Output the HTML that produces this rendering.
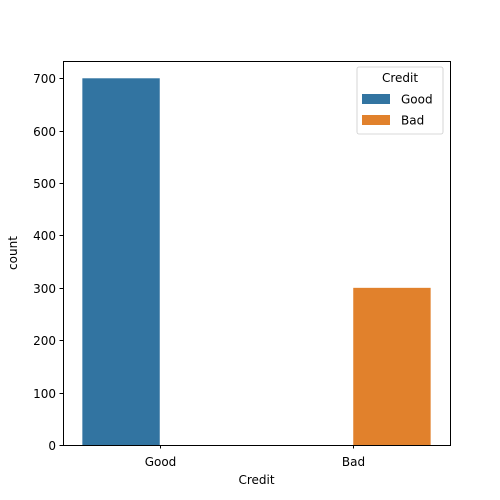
<!DOCTYPE html>
<html><head><meta charset="utf-8"><style>
html,body{margin:0;padding:0;background:#fff;width:500px;height:500px;overflow:hidden;}
svg{display:block;}
svg text{font-family:"DejaVu Sans","Liberation Sans",sans-serif;fill:#000;}
</style></head><body>
<svg id="chart" width="500" height="500" xmlns="http://www.w3.org/2000/svg"></svg>
<script>
const categories = ["Good", "Bad"];
const hues = ["Good", "Bad"];
const counts = [700, 300];
const yTicks = [0, 100, 200, 300, 400, 500, 600, 700];
const colors = ["#3274a1", "#e1812c"];

const svg = document.getElementById('chart');
const NS = 'http://www.w3.org/2000/svg';
const L = 63, R = 450, T = 61, B = 445;
const yMax = 733;
const FS = 12;
const xs = v => L + (v + 0.5) / 2 * (R - L);
const ys = v => B - v / yMax * (B - T);
function mk(tag, attrs, parent) {
  const e = document.createElementNS(NS, tag);
  for (const k in attrs) e.setAttribute(k, attrs[k]);
  (parent || svg).appendChild(e);
  return e;
}
counts.forEach((c, i) => {
  const hueOff = -0.4 + i * 0.4;
  const x0 = xs(i + hueOff), x1 = xs(i + hueOff + 0.4);
  const r = mk('rect', {x: x0, y: ys(c), width: x1 - x0, height: ys(0) - ys(c), fill: colors[i]});
  
  
});
const fr = mk('rect', {x: L + 0.5, y: T + 0.5, width: R - L, height: B - T, fill: 'none', stroke: '#000', 'stroke-width': 1});


yTicks.forEach(t => {
  const y = Math.round(ys(t)) + 0.5;
  mk('line', {x1: L - 3.5, x2: L, y1: y, y2: y, stroke: '#000', 'stroke-width': 1});
  const tx = mk('text', {x: L - 7, y: y + 4.5, 'text-anchor': 'end', 'font-size': FS});
  tx.textContent = t;
  
  
});
categories.forEach((c, i) => {
  const x = Math.round(xs(i)) + 0.5;
  mk('line', {x1: x, x2: x, y1: B, y2: B + 3.5, stroke: '#000', 'stroke-width': 1});
  const tx = mk('text', {x: x, y: B + 21, 'text-anchor': 'middle', 'font-size': FS});
  tx.textContent = c;
  
  
});
const xt = mk('text', {x: (L + R) / 2, y: 484, 'text-anchor': 'middle', 'font-size': FS});
xt.textContent = 'Credit';


const yt = mk('text', {x: 17, y: (T + B) / 2, 'text-anchor': 'middle', 'font-size': FS, transform: 'rotate(-90 17 ' + (T + B) / 2 + ')'});
yt.textContent = 'count';


const lg = mk('g', {});


mk('rect', {x: 357, y: 67, width: 86, height: 67, rx: 2, fill: '#fff', 'fill-opacity': 0.8, stroke: '#ccc', 'stroke-width': 0.8}, lg);
const lt = mk('text', {x: 400, y: 82, 'text-anchor': 'middle', 'font-size': FS}, lg);
lt.textContent = 'Credit';


hues.forEach((h, i) => {
  const y = 94 + i * 21;
  const g = mk('g', {}, lg);
  
  
  mk('rect', {x: 362, y: y, width: 28, height: 10, fill: colors[i]}, g);
  const t = mk('text', {x: 401, y: y + 9.5, 'font-size': FS}, g);
  t.textContent = h;
});
</script>
</body></html>
